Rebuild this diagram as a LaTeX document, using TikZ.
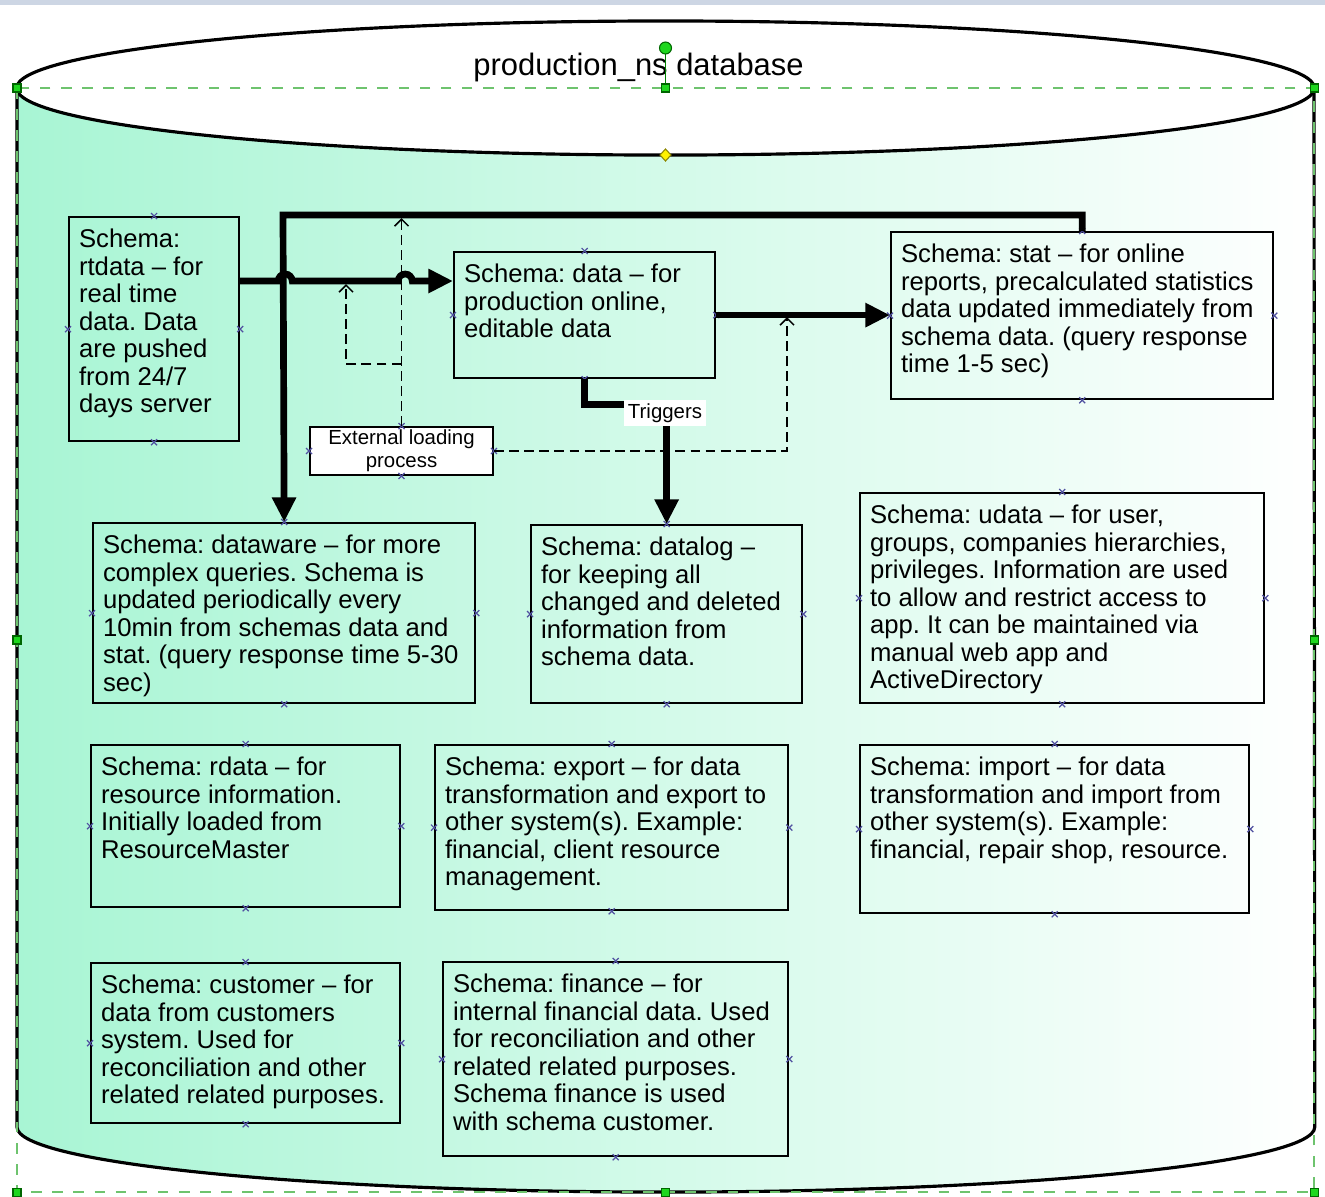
\documentclass[tikz,border=0pt]{standalone}
\usepackage{fontspec}
\setmainfont{Liberation Sans}
\usetikzlibrary{arrows.meta}
\frenchspacing

\definecolor{mint}{RGB}{168,245,212}
\definecolor{handlegreen}{RGB}{30,215,30}
\definecolor{selgreen}{RGB}{110,195,110}
\definecolor{xblue}{RGB}{80,80,160}
\definecolor{strip}{RGB}{205,214,228}

\newcommand{\schemafontsize}{\fontsize{7.3}{7.82}\selectfont}
\newcommand{\boxtext}[3]{\parbox[t][#2][t]{#1}{\raggedright\strut #3}}

\tikzset{
  schema/.style={draw, line width=0.6pt, anchor=north west, inner xsep=0.1cm, inner ysep=0.115cm, font=\schemafontsize},
  bus/.style={line width=1.9pt, -{Triangle[length=7pt,width=6.5pt]}},
  loadline/.style={line width=0.45pt, dash pattern=on 2.8pt off 1.5pt, -{Straight Barb[length=2pt,width=4pt]}},
  xmark/.style={xblue, line width=0.35pt},
  handle/.style={fill=handlegreen, draw=green!40!black, line width=0.3pt}
}

\begin{document}
\begin{tikzpicture}[x=0.01cm,y=-0.01cm]
    \pgfmathsetmacro{\cylleft}{17}
    \pgfmathsetmacro{\cylright}{1314}
    \pgfmathsetmacro{\cylmid}{665.5}
    \pgfmathsetmacro{\cyltop}{88}
    \pgfmathsetmacro{\cylbottom}{1127}
    \providecommand{\rimrx}{6.485cm}
    \providecommand{\titlefontsize}{\fontsize{8.8}{10}\selectfont}
    \providecommand{\smallfontsize}{\fontsize{5.8}{6.5}\selectfont}
    \useasboundingbox (0,0) rectangle (1325,1196);
    \fill[strip] (0,0) rectangle (1325,5);
    \shade[left color=mint,right color=white] (\cylleft,\cyltop) -- (\cylleft,\cylbottom) arc[start angle=180,end angle=360,x radius=\rimrx,y radius=0.65cm] -- (\cylright,\cyltop) arc[start angle=0,end angle=-180,x radius=\rimrx,y radius=0.67cm] -- cycle;
    \draw[line width=0.9pt] (\cylleft,\cyltop) -- (\cylleft,\cylbottom) arc[start angle=180,end angle=360,x radius=\rimrx,y radius=0.65cm] -- (\cylright,\cyltop);
    \draw[line width=0.9pt,fill=white] (\cylmid,\cyltop) ellipse[x radius=\rimrx,y radius=0.67cm];
    \node[font=\titlefontsize] (title) at (638.5,67) {production\_ns database};
    \draw[selgreen,dashed,line width=0.5pt] (\cylleft,\cyltop) rectangle (\cylright,1192);
    \draw[green!50!black,line width=0.4pt] (\cylmid,\cyltop) -- (\cylmid,48);
    \filldraw[handle] (\cylmid,48) circle[radius=0.06cm];
    \foreach \hx/\hy in {17/88,665.5/88,1314/88,17/640,1314/640,17/1192,665.5/1192,1314/1192}
        \filldraw[handle] (\hx,\hy) +(-4,-4) rectangle +(4,4);
    \filldraw[fill=yellow,draw=olive,line width=0.3pt] (\cylmid,149) -- (671,155) -- (\cylmid,161) -- (660,155) -- cycle;

    \node[schema] (rtdata) at (68,216) {\boxtext{1.50cm}{2.01cm}{Schema:\\rtdata -- for\\real time\\data. Data\\are pushed\\from 24/7\\days server}};
    \node[schema] (data) at (453,251) {\boxtext{2.41cm}{1.03cm}{Schema: data -- for\\production online,\\editable data}};
    \node[schema] (stat) at (890,231) {\boxtext{3.62cm}{1.44cm}{Schema: stat -- for online\\reports, precalculated statistics\\data updated immediately from\\schema data. (query response\\time 1-5 sec)}};
    \node[schema] (dataware) at (92,522) {\boxtext{3.62cm}{1.57cm}{Schema: dataware -- for more\\complex queries. Schema is\\updated periodically every\\10min from schemas data and\\stat. (query response time 5-30\\sec)}};
    \node[schema] (datalog) at (530,524) {\boxtext{2.51cm}{1.55cm}{Schema: datalog --\\for keeping all\\changed and deleted\\information from\\schema data.}};
    \node[schema] (udata) at (859,492) {\boxtext{3.84cm}{1.87cm}{Schema: udata -- for user,\\groups, companies hierarchies,\\privileges. Information are used\\to allow and restrict access to\\app. It can be maintained via\\manual web app and\\ActiveDirectory}};
    \node[schema] (rdata) at (90,744) {\boxtext{2.89cm}{1.39cm}{Schema: rdata -- for\\resource information.\\Initially loaded from\\ResourceMaster}};
    \node[schema] (export) at (434,744) {\boxtext{3.33cm}{1.42cm}{Schema: export -- for data\\transformation and export to\\other system(s). Example:\\financial, client resource\\management.}};
    \node[schema] (import) at (859,744) {\boxtext{3.69cm}{1.45cm}{Schema: import -- for data\\transformation and import from\\other system(s). Example:\\financial, repair shop, resource.}};
    \node[schema] (customer) at (90,962) {\boxtext{2.89cm}{1.37cm}{Schema: customer -- for\\data from customers\\system. Used for\\reconciliation and other\\related related purposes.}};
    \node[schema] (finance) at (442,961) {\boxtext{3.25cm}{1.71cm}{Schema: finance -- for\\internal financial data. Used\\for reconciliation and other\\related related purposes.\\Schema finance is used\\with schema customer.}};
    \node[draw,fill=white,line width=0.5pt,inner sep=0,minimum width=1.83cm,minimum height=0.48cm,align=center,font=\smallfontsize] (ext) at (401.5,451) {External loading\\process};

    \foreach \b in {rtdata,data,stat,dataware,datalog,udata,rdata,export,import,customer,finance,ext}
        \foreach \a in {north,south,east,west}
            \draw[xmark] (\b.\a) +(-3,-3) -- +(3,3) +(-3,3) -- +(3,-3);

    \coordinate (topbus) at (283,215);
    \coordinate (feed) at (0,281);
    \coordinate (loadtop) at (401.5,218);
    \coordinate (loadtap) at (401.5,364);
    \coordinate (feedin) at (346,284);
    \coordinate (statin) at (787,317);
    \draw[loadline] (ext.north) -- (loadtop);
    \draw[loadline] (loadtap) -| (feedin);
    \draw[loadline] (ext.east) -| (statin);
    \draw[bus] (stat.north) |- (topbus) -- (dataware.north);
    \draw[bus] (rtdata.east |- feed) -- ++(38,0) arc[start angle=180,end angle=0,radius=0.07cm] -- ++(106,0) arc[start angle=180,end angle=0,radius=0.07cm] -- (data.west |- feed);
    \draw[bus] (data.east) -- (stat.west |- data.east);
    \draw[bus] (data.south) -- ++(0,25) -| (datalog.north);
    \node[fill=white,inner sep=1pt,font=\smallfontsize] (trig) at (665,413) {Triggers};
\end{tikzpicture}
\end{document}
